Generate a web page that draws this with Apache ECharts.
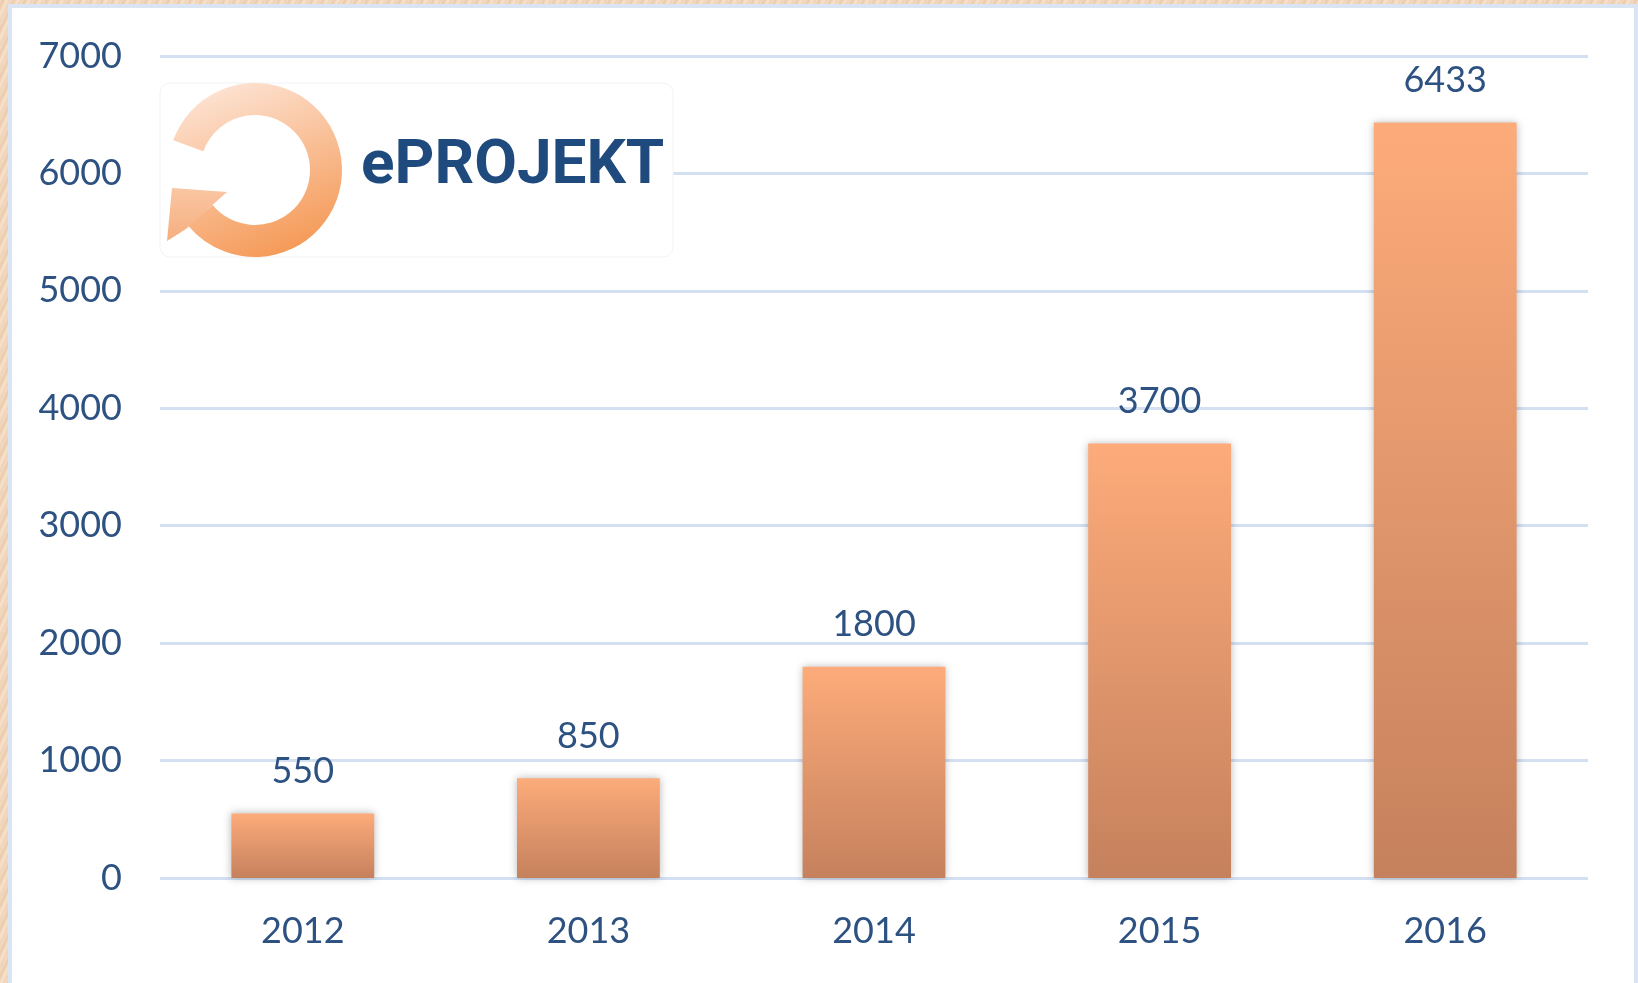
<!DOCTYPE html>
<html>
<head>
<meta charset="utf-8">
<script src="https://cdn.jsdelivr.net/npm/echarts@6/dist/echarts.min.js"></script>
<style>
  html, body { margin: 0; padding: 0; }
  body {
    width: 1638px; height: 983px; overflow: hidden; position: relative;
    background: #f0d2b6;
    background-image: repeating-linear-gradient(115deg, #f4dcc6 0px, #eccaa9 3px, #f6e2ce 6px, #efd0b3 10px);
  }
  #frame {
    position: absolute; left: 8px; top: 4px; width: 1630px; height: 983px;
    box-sizing: border-box; background: #fff; border: 4px solid #d9e5f3;
  }
  #main { position: absolute; left: 0; top: 0; width: 1638px; height: 983px; }
</style>
</head>
<body>
<div id="frame"></div>
<div id="main"></div>
<script>
// chart data
var years = ['2012', '2013', '2014', '2015', '2016'];
var projects = [550, 850, 1800, 3700, 6433];

var textColor = '#2d5282';
var font = 'Lato, "Open Sans", sans-serif';

var myChart = echarts.init(document.getElementById('main'));

var option = {
  backgroundColor: 'transparent',
  animation: false,
  grid: { left: 160, right: 50, top: 56, bottom: 105 },
  xAxis: {
    type: 'category',
    data: years,
    axisLine: { show: false },
    axisTick: { show: false },
    axisLabel: { color: textColor, fontSize: 36, fontFamily: font, margin: 35 }
  },
  yAxis: {
    type: 'value',
    min: 0,
    max: 7000,
    interval: 1000,
    axisLine: { show: false },
    axisTick: { show: false },
    axisLabel: {
      color: textColor, fontSize: 36, fontFamily: font, margin: 38,
      formatter: function (v) { return String(v); }
    },
    splitLine: { lineStyle: { color: '#d3e0f1', width: 3 } }
  },
  series: [{
    type: 'bar',
    data: projects,
    barWidth: '50%',
    itemStyle: {
      color: new echarts.graphic.LinearGradient(0, 0, 0, 1, [
        { offset: 0, color: '#fdab7a' },
        { offset: 1, color: '#c5815d' }
      ]),
      shadowBlur: 8,
      shadowColor: 'rgba(0,0,0,0.28)'
    },
    label: {
      show: true,
      position: 'top',
      distance: 24,
      color: textColor,
      fontSize: 36,
      fontFamily: font
    }
  }],
  // logo box
  graphic: [
    {
      type: 'rect', z: 10,
      shape: { x: 160, y: 83, width: 513, height: 174, r: 10 },
      style: { fill: '#fff', stroke: '#f2f2f2', lineWidth: 1 }
    },
    {
      type: 'sector', z: 11,
      shape: { cx: 255, cy: 170, r: 87, r0: 55, startAngle: 3.49, endAngle: 2.45, clockwise: true },
      style: {
        fill: new echarts.graphic.LinearGradient(0.2, 0, 0.6, 1, [
          { offset: 0, color: '#fde5d6' },
          { offset: 1, color: '#f59a58' }
        ], false)
      }
    },
    {
      type: 'polygon', z: 11,
      shape: { points: [[172, 188], [227, 192], [208, 209], [186, 229], [167, 241]] },
      style: {
        fill: new echarts.graphic.LinearGradient(0, 0, 0, 1, [
          { offset: 0, color: '#f9c6a3' },
          { offset: 1, color: '#f6ae7e' }
        ])
      }
    },
    {
      type: 'text', z: 11,
      style: {
        x: 361, y: 167,
        text: 'ePROJEKT',
        font: 'bold 62px Roboto, "Liberation Sans", sans-serif',
        fill: '#1f4a7e',
        verticalAlign: 'middle'
      }
    }
  ]
};

myChart.setOption(option, true);
</script>
</body>
</html>
